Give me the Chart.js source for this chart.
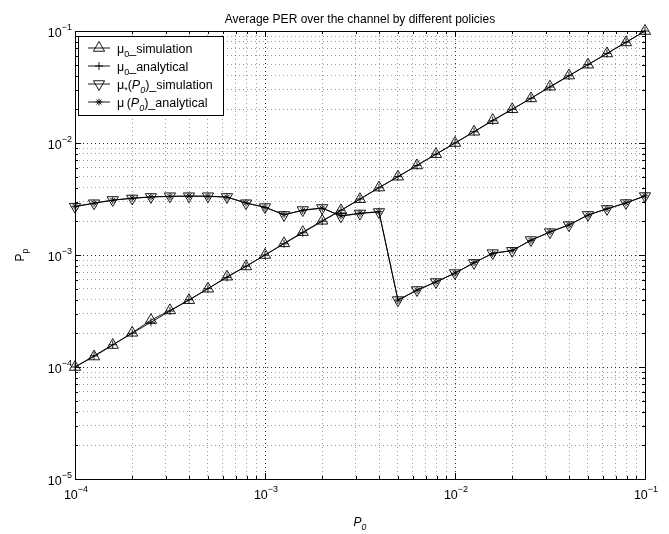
<!DOCTYPE html>
<html>
<head>
<meta charset="utf-8">
<script src="https://cdn.jsdelivr.net/npm/chart.js@4.4.0/dist/chart.umd.min.js"></script>
<style>
  html, body { margin: 0; padding: 0; background: #fff; }
</style>
</head>
<body>
<canvas id="per_chart" width="669" height="534"></canvas>
<script>
// valores
var p0 = [1.00e-4, 1.26e-4, 1.58e-4, 2.00e-4, 2.51e-4, 3.16e-4, 3.98e-4, 5.01e-4, 6.31e-4, 7.94e-4,
          1.00e-3, 1.26e-3, 1.58e-3, 2.00e-3, 2.51e-3, 3.16e-3, 3.98e-3, 5.01e-3, 6.31e-3, 7.94e-3,
          1.00e-2, 1.26e-2, 1.58e-2, 2.00e-2, 2.51e-2, 3.16e-2, 3.98e-2, 5.01e-2, 6.31e-2, 7.94e-2, 1.00e-1];

var mu0Sim = [1.00e-4, 1.24e-4, 1.57e-4, 2.02e-4, 2.62e-4, 3.20e-4, 3.95e-4, 5.00e-4, 6.40e-4, 7.90e-4,
              1.00e-3, 1.27e-3, 1.60e-3, 2.02e-3, 2.50e-3, 3.15e-3, 4.00e-3, 5.00e-3, 6.30e-3, 7.95e-3,
              1.00e-2, 1.26e-2, 1.60e-2, 2.00e-2, 2.50e-2, 3.18e-2, 4.00e-2, 5.00e-2, 6.30e-2, 7.90e-2, 1.00e-1];

var mu0Ana = [1.00e-4, 1.26e-4, 1.58e-4, 2.00e-4, 2.51e-4, 3.16e-4, 3.98e-4, 5.01e-4, 6.31e-4, 7.94e-4,
              1.00e-3, 1.26e-3, 1.58e-3, 2.00e-3, 2.51e-3, 3.16e-3, 3.98e-3, 5.01e-3, 6.31e-3, 7.94e-3,
              1.00e-2, 1.26e-2, 1.58e-2, 2.00e-2, 2.51e-2, 3.16e-2, 3.98e-2, 5.01e-2, 6.31e-2, 7.94e-2, 1.00e-1];

var muStarSim = [2.70e-3, 2.90e-3, 3.10e-3, 3.20e-3, 3.30e-3, 3.35e-3, 3.35e-3, 3.35e-3, 3.30e-3, 2.90e-3,
                 2.68e-3, 2.28e-3, 2.52e-3, 2.63e-3, 2.22e-3, 2.35e-3, 2.42e-3, 3.96e-4, 4.87e-4, 5.74e-4,
                 6.90e-4, 8.50e-4, 1.04e-3, 1.09e-3, 1.36e-3, 1.60e-3, 1.85e-3, 2.28e-3, 2.58e-3, 2.91e-3, 3.36e-3];

var muStarAna = [2.72e-3, 2.90e-3, 3.08e-3, 3.22e-3, 3.30e-3, 3.33e-3, 3.36e-3, 3.34e-3, 3.28e-3, 2.92e-3,
                 2.66e-3, 2.30e-3, 2.50e-3, 2.62e-3, 2.24e-3, 2.36e-3, 2.44e-3, 3.94e-4, 4.85e-4, 5.76e-4,
                 6.88e-4, 8.55e-4, 1.03e-3, 1.10e-3, 1.35e-3, 1.61e-3, 1.86e-3, 2.27e-3, 2.59e-3, 2.92e-3, 3.38e-3];

var xTickVals = [1e-4, 1e-3, 1e-2, 1e-1];
var xTickLabels = ["10^−4", "10^−3", "10^−2", "10^−1"];
var yTickVals = [1e-5, 1e-4, 1e-3, 1e-2, 1e-1];
var yTickLabels = ["10^−5", "10^−4", "10^−3", "10^−2", "10^−1"];

var titulo = "Average PER over the channel by different policies";
// texto con formato: n normal, i cursiva, sub subindice, subi subindice cursiva
var leyenda = [
  [["μ", "n"], ["0", "sub"], ["_simulation", "n"]],
  [["μ", "n"], ["0", "sub"], ["_analytical", "n"]],
  [["μ", "n"], ["*", "sub"], ["(", "n"], ["P", "i"], ["0", "subi"], [")_simulation", "n"]],
  [["μ", "n"], [" ", "sub"], ["(", "n"], ["P", "i"], ["0", "subi"], [")_analytical", "n"]]
];

var FONT = '"Liberation Sans", Arial, Helvetica, sans-serif';

function gridVals(decs) {
  var out = [];
  for (var d = 0; d < decs.length - 1; d++) {
    for (var m = 1; m <= 9; m++) out.push(m * decs[d]);
  }
  out.push(decs[decs.length - 1]);
  return out;
}

function segFont(st, size) {
  var small = st.indexOf("sub") === 0 || st === "sup";
  var it = (st === "i" || st === "subi") ? "italic " : "";
  return it + (small ? size * 0.72 : size) + "px " + FONT;
}
function segDy(st, size) {
  if (st.indexOf("sub") === 0) return size * 0.32;
  if (st === "sup") return -size * 0.55;
  return 0;
}
function drawRich(ctx, segs, x, y, size, align) {
  var w = 0;
  segs.forEach(function (s) { ctx.font = segFont(s[1], size); w += ctx.measureText(s[0]).width; });
  var cx = align === "center" ? x - w / 2 : (align === "right" ? x - w : x);
  ctx.textAlign = "left";
  ctx.textBaseline = "alphabetic";
  segs.forEach(function (s) {
    ctx.font = segFont(s[1], size);
    ctx.fillText(s[0], cx, y + segDy(s[1], size));
    cx += ctx.measureText(s[0]).width;
  });
}
function potencia(lbl) {
  var p = lbl.split("^");
  return [[p[0], "n"], [p[1], "sup"]];
}

var ejesPlugin = {
  id: "ejes",
  afterDatasetsDraw: function (chart) {
    var ctx = chart.ctx, a = chart.chartArea;
    var xs = chart.scales.x, ys = chart.scales.y;
    ctx.save();
    ctx.strokeStyle = "#000";
    ctx.lineWidth = 1;
    // marcas interiores
    ctx.beginPath();
    gridVals(xTickVals).forEach(function (v) {
      var px = Math.round(xs.getPixelForValue(v)) + 0.5;
      var len = xTickVals.indexOf(v) >= 0 ? 6 : 3;
      ctx.moveTo(px, a.bottom); ctx.lineTo(px, a.bottom - len);
      ctx.moveTo(px, a.top); ctx.lineTo(px, a.top + len);
    });
    gridVals(yTickVals).forEach(function (v) {
      var py = Math.round(ys.getPixelForValue(v)) + 0.5;
      var len = yTickVals.indexOf(v) >= 0 ? 6 : 3;
      ctx.moveTo(a.left, py); ctx.lineTo(a.left + len, py);
      ctx.moveTo(a.right, py); ctx.lineTo(a.right - len, py);
    });
    ctx.stroke();
    ctx.strokeRect(Math.round(a.left) + 0.5, Math.round(a.top) + 0.5,
                   Math.round(a.right - a.left), Math.round(a.bottom - a.top));

    // etiquetas de los ejes
    ctx.fillStyle = "#000";
    xTickVals.forEach(function (v, i) {
      drawRich(ctx, potencia(xTickLabels[i]), xs.getPixelForValue(v) + 1, a.bottom + 20, 12.5, "center");
    });
    yTickVals.forEach(function (v, i) {
      drawRich(ctx, potencia(yTickLabels[i]), a.left - 3, ys.getPixelForValue(v) + 5.5, 12.5, "right");
    });

    // titulos
    ctx.font = "12px " + FONT;
    ctx.textAlign = "center";
    ctx.fillText(titulo, (a.left + a.right) / 2, 23);
    drawRich(ctx, [["P", "i"], ["0", "subi"]], (a.left + a.right) / 2, 526, 12, "center");
    ctx.save();
    ctx.translate(24, (a.top + a.bottom) / 2);
    ctx.rotate(-Math.PI / 2);
    drawRich(ctx, [["P", "n"], ["p", "sub"]], 0, 0, 12, "center");
    ctx.restore();

    // leyenda
    var bx = 78, by = 36, bw = 145, bh = 79;
    ctx.fillStyle = "#fff";
    ctx.fillRect(bx, by, bw, bh);
    ctx.strokeRect(bx + 0.5, by + 0.5, bw, bh);
    chart.data.datasets.forEach(function (ds, i) {
      var ry = 48 + i * 18;
      ctx.strokeStyle = "#000";
      ctx.lineWidth = ds.borderWidth;
      ctx.beginPath();
      ctx.moveTo(88, ry); ctx.lineTo(110, ry);
      ctx.stroke();
      ctx.fillStyle = "rgba(0,0,0,0)";
      Chart.helpers.drawPoint(ctx, {
        pointStyle: ds.pointStyle, radius: ds.pointRadius, rotation: ds.pointRotation || 0,
        borderWidth: ds.pointBorderWidth
      }, 99, ry);
      ctx.fillStyle = "#000";
      drawRich(ctx, leyenda[i], 117, ry + 4.5, 12.5, "left");
    });
    ctx.restore();
  }
};

function serie(label, ys, estilo, radio, rot) {
  return {
    label: label,
    data: p0.map(function (x, i) { return { x: x, y: ys[i] }; }),
    borderColor: "#000",
    borderWidth: 0.9,
    pointStyle: estilo,
    pointRadius: radio,
    pointRotation: rot,
    pointBorderColor: "#000",
    pointBackgroundColor: "rgba(0,0,0,0)",
    pointBorderWidth: 0.9,
    tension: 0,
    fill: false,
    clip: false
  };
}

var ctx = document.getElementById("per_chart").getContext("2d");
var per_chart = new Chart(ctx, {
  type: "line",
  data: {
    datasets: [
      serie("mu0_simulation", mu0Sim, "triangle", 6.5, 0),
      serie("mu0_analytical", mu0Ana, "cross", 4, 0),
      serie("mu*(P0)_simulation", muStarSim, "triangle", 6.5, 180),
      serie("mu(P0)_analytical", muStarAna, "star", 3.5, 0)
    ]
  },
  options: {
    responsive: false,
    animation: false,
    layout: { padding: { top: 31, right: 24, left: 0, bottom: 0 } },
    plugins: { legend: { display: false }, title: { display: false }, tooltip: { enabled: false } },
    scales: {
      x: {
        type: "logarithmic",
        min: 1e-4, max: 1e-1,
        afterBuildTicks: function (s) { s.ticks = gridVals(xTickVals).map(function (v) { return { value: v }; }); },
        afterFit: function (s) { s.height = 55; },
        ticks: { display: false },
        grid: {
          drawTicks: false,
          lineWidth: 1,
          color: function (c) {
            return xTickVals.indexOf(c.tick && c.tick.value) >= 0 ? "rgba(0,0,0,0.8)" : "rgba(0,0,0,0.4)";
          }
        },
        border: { display: false, dash: [1, 3] }
      },
      y: {
        type: "logarithmic",
        min: 1e-5, max: 1e-1,
        afterBuildTicks: function (s) { s.ticks = gridVals(yTickVals).map(function (v) { return { value: v }; }); },
        afterFit: function (s) { s.width = 75; },
        ticks: { display: false },
        grid: {
          drawTicks: false,
          lineWidth: 1,
          color: function (c) {
            return yTickVals.indexOf(c.tick && c.tick.value) >= 0 ? "rgba(0,0,0,0.8)" : "rgba(0,0,0,0.4)";
          }
        },
        border: { display: false, dash: [1, 3] }
      }
    }
  },
  plugins: [ejesPlugin]
});
</script>
</body>
</html>
